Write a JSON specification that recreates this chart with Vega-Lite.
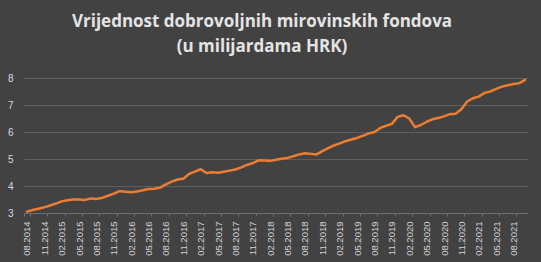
{
  "$schema": "https://vega.github.io/schema/vega-lite/v6.json",
  "width": 504,
  "height": 135,
  "autosize": {"type": "none"},
  "padding": {"left": 24, "top": 78, "right": 13, "bottom": 49},
  "background": "#424242",
  "config": {"view": {"stroke": null}},
  "title": {
    "text": ["Vrijednost dobrovoljnih mirovinskih fondova", "(u milijardama HRK)"],
    "font": "Open Sans",
    "fontSize": 17,
    "fontWeight": "bold",
    "color": "#e4e4e4",
    "anchor": "middle",
    "dx": -14,
    "offset": 17,
    "lineHeight": 25
  },
  "data": {
    "values": [
      {"m": "08.2014", "v": 3.05}, {"m": "09.2014", "v": 3.11}, {"m": "10.2014", "v": 3.16}, {"m": "11.2014", "v": 3.21},
      {"m": "12.2014", "v": 3.28}, {"m": "01.2015", "v": 3.35}, {"m": "02.2015", "v": 3.43}, {"m": "03.2015", "v": 3.47},
      {"m": "04.2015", "v": 3.50}, {"m": "05.2015", "v": 3.50}, {"m": "06.2015", "v": 3.48}, {"m": "07.2015", "v": 3.54},
      {"m": "08.2015", "v": 3.52}, {"m": "09.2015", "v": 3.56}, {"m": "10.2015", "v": 3.64}, {"m": "11.2015", "v": 3.72},
      {"m": "12.2015", "v": 3.81}, {"m": "01.2016", "v": 3.79}, {"m": "02.2016", "v": 3.77}, {"m": "03.2016", "v": 3.80},
      {"m": "04.2016", "v": 3.84}, {"m": "05.2016", "v": 3.89}, {"m": "06.2016", "v": 3.90}, {"m": "07.2016", "v": 3.94},
      {"m": "08.2016", "v": 4.06}, {"m": "09.2016", "v": 4.16}, {"m": "10.2016", "v": 4.24}, {"m": "11.2016", "v": 4.27},
      {"m": "12.2016", "v": 4.45}, {"m": "01.2017", "v": 4.53}, {"m": "02.2017", "v": 4.62}, {"m": "03.2017", "v": 4.48},
      {"m": "04.2017", "v": 4.51}, {"m": "05.2017", "v": 4.49}, {"m": "06.2017", "v": 4.53}, {"m": "07.2017", "v": 4.57},
      {"m": "08.2017", "v": 4.61}, {"m": "09.2017", "v": 4.69}, {"m": "10.2017", "v": 4.78}, {"m": "11.2017", "v": 4.85},
      {"m": "12.2017", "v": 4.95}, {"m": "01.2018", "v": 4.94}, {"m": "02.2018", "v": 4.93}, {"m": "03.2018", "v": 4.97},
      {"m": "04.2018", "v": 5.01}, {"m": "05.2018", "v": 5.04}, {"m": "06.2018", "v": 5.10}, {"m": "07.2018", "v": 5.17},
      {"m": "08.2018", "v": 5.21}, {"m": "09.2018", "v": 5.19}, {"m": "10.2018", "v": 5.17}, {"m": "11.2018", "v": 5.29},
      {"m": "12.2018", "v": 5.40}, {"m": "01.2019", "v": 5.50}, {"m": "02.2019", "v": 5.58}, {"m": "03.2019", "v": 5.66},
      {"m": "04.2019", "v": 5.72}, {"m": "05.2019", "v": 5.78}, {"m": "06.2019", "v": 5.86}, {"m": "07.2019", "v": 5.95},
      {"m": "08.2019", "v": 6.00}, {"m": "09.2019", "v": 6.15}, {"m": "10.2019", "v": 6.23}, {"m": "11.2019", "v": 6.30},
      {"m": "12.2019", "v": 6.56}, {"m": "01.2020", "v": 6.62}, {"m": "02.2020", "v": 6.50}, {"m": "03.2020", "v": 6.18},
      {"m": "04.2020", "v": 6.26}, {"m": "05.2020", "v": 6.38}, {"m": "06.2020", "v": 6.47}, {"m": "07.2020", "v": 6.52},
      {"m": "08.2020", "v": 6.58}, {"m": "09.2020", "v": 6.66}, {"m": "10.2020", "v": 6.68}, {"m": "11.2020", "v": 6.84},
      {"m": "12.2020", "v": 7.13}, {"m": "01.2021", "v": 7.25}, {"m": "02.2021", "v": 7.31}, {"m": "03.2021", "v": 7.45},
      {"m": "04.2021", "v": 7.50}, {"m": "05.2021", "v": 7.60}, {"m": "06.2021", "v": 7.68}, {"m": "07.2021", "v": 7.73},
      {"m": "08.2021", "v": 7.78}, {"m": "09.2021", "v": 7.81}, {"m": "10.2021", "v": 7.93}
    ]
  },
  "mark": {"type": "line", "color": "#ed7d31", "strokeWidth": 2.5, "strokeJoin": "round", "strokeCap": "round"},
  "encoding": {
    "x": {
      "field": "m",
      "type": "ordinal",
      "sort": null,
      "bandPosition": 0.5,
      "scale": {"type": "band", "paddingInner": 0, "paddingOuter": 0},
      "axis": {
        "title": null,
        "values": ["08.2014", "11.2014", "02.2015", "05.2015", "08.2015", "11.2015", "02.2016", "05.2016", "08.2016", "11.2016", "02.2017", "05.2017", "08.2017", "11.2017", "02.2018", "05.2018", "08.2018", "11.2018", "02.2019", "05.2019", "08.2019", "11.2019", "02.2020", "05.2020", "08.2020", "11.2020", "02.2021", "05.2021", "08.2021"],
        "tickBand": "extent",
        "labelAngle": -90,
        "labelFont": "Liberation Sans",
        "labelFontSize": 9.5,
        "labelColor": "#d4d4d4",
        "labelPadding": 5,
        "tickSize": 3,
        "tickColor": "#6e6e6e",
        "domainColor": "#6e6e6e",
        "grid": false
      }
    },
    "y": {
      "field": "v",
      "type": "quantitative",
      "scale": {"domain": [3, 8], "nice": false, "zero": false},
      "axis": {
        "title": null,
        "values": [3, 4, 5, 6, 7, 8],
        "domain": false,
        "ticks": false,
        "labelFont": "Liberation Sans",
        "labelFontSize": 10,
        "labelColor": "#d9d9d9",
        "labelPadding": 11,
        "gridColor": "#5e5e5e",
        "gridWidth": 1
      }
    }
  }
}
